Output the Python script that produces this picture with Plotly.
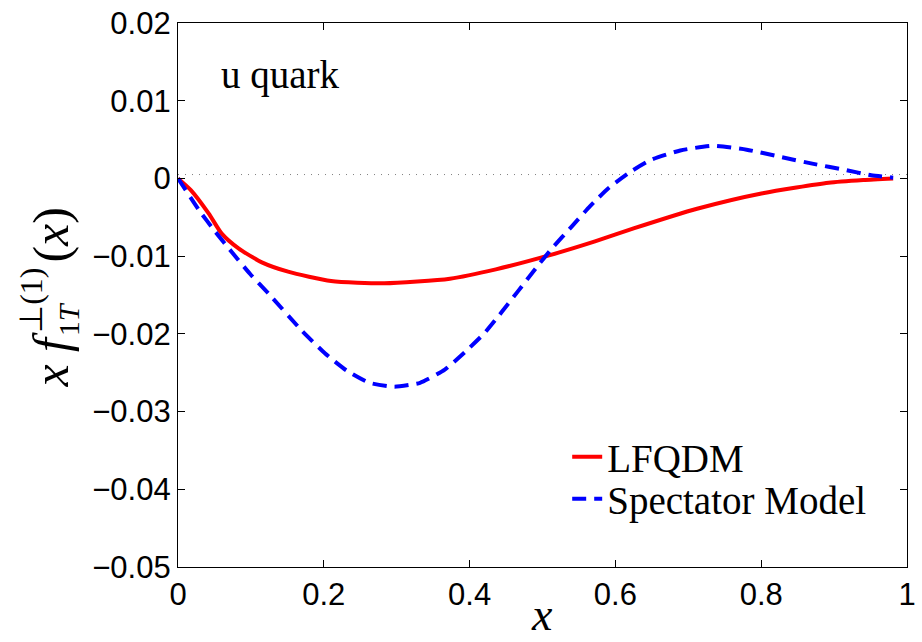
import plotly.graph_objects as go

# LFQDM curve
x_lfqdm = [0, 0.0176, 0.042, 0.060, 0.083, 0.115, 0.151, 0.210, 0.283, 0.373,
           0.436, 0.509, 0.572, 0.626, 0.712, 0.802, 0.8925, 0.94, 0.981]
y_lfqdm = [0, -0.0015, -0.0045, -0.0071, -0.0090, -0.0108, -0.0120, -0.0132,
           -0.0135, -0.0129, -0.0117, -0.0099, -0.0081, -0.0064, -0.0039,
           -0.0019, -0.00055, -0.0002, 0]

# Spectator model curve
x_spect = [0, 0.029, 0.0515, 0.074, 0.099, 0.124, 0.170, 0.2015, 0.231,
           0.2625, 0.297, 0.332, 0.366, 0.393, 0.4205, 0.444, 0.4657, 0.4905,
           0.513, 0.540, 0.565, 0.590, 0.6215, 0.649, 0.689, 0.734, 0.780,
           0.825, 0.870, 0.915, 0.951, 0.981]
y_spect = [0, -0.0041, -0.0069, -0.0095, -0.0123, -0.0148, -0.0196, -0.0225,
           -0.0247, -0.0263, -0.0268, -0.0263, -0.0246, -0.0224, -0.0199,
           -0.0172, -0.0146, -0.0116, -0.0090, -0.0062, -0.0036, -0.0013,
           0.0009, 0.0024, 0.0036, 0.0042, 0.0037, 0.0028, 0.0019, 0.0011,
           0.0004, 0.0001]

# dotted reference level
x_ref = [0, 1]
y_ref = [0.0005, 0.0005]

x_ticks = [0, 0.2, 0.4, 0.6, 0.8, 1]
x_ticklabels = ["0", "0.2", "0.4", "0.6", "0.8", "1"]
y_ticks = [0.02, 0.01, 0, -0.01, -0.02, -0.03, -0.04, -0.05]
y_ticklabels = ["0.02", "0.01", "0", "\u22120.01", "\u22120.02", "\u22120.03",
                "\u22120.04", "\u22120.05"]

SERIF = "Liberation Serif"
SANS = "Liberation Sans"

fig = go.Figure()

fig.add_trace(go.Scatter(x=x_ref, y=y_ref, mode="lines", showlegend=False,
                         hoverinfo="skip",
                         line=dict(color="#808080", width=1, dash="1px,6px")))

fig.add_trace(go.Scatter(x=x_lfqdm, y=y_lfqdm, mode="lines", name="LFQDM",
                         legend="legend",
                         line=dict(color="#ff0000", width=4, shape="spline",
                                   smoothing=0.6)))
fig.add_trace(go.Scatter(x=x_spect, y=y_spect, mode="lines",
                         name="Spectator Model", legend="legend2",
                         line=dict(color="#0000ff", width=4, dash="14px,8px",
                                   shape="spline", smoothing=0.5)))

axis_common = dict(showline=True, linecolor="black", linewidth=1.2,
                   mirror="ticks", ticks="inside", ticklen=7, tickwidth=1,
                   tickcolor="black", showgrid=False, zeroline=False,
                   tickfont=dict(family=SANS, size=31, color="black"))

fig.update_xaxes(range=[0, 1], tickvals=x_ticks, ticktext=x_ticklabels,
                 ticklabeloverflow="allow", **axis_common)
fig.update_yaxes(range=[-0.05, 0.02], tickvals=y_ticks, ticktext=y_ticklabels,
                 **axis_common)

L, T, W, H = 178, 23, 738, 544   # plot area in pixels


def px(xp):
    return (xp - L) / W


def py(yp):
    return (T + H - yp) / H


def rot(text, xc, yc, size):
    return dict(text=text, x=px(xc), y=py(yc), xref="paper", yref="paper",
                xanchor="center", yanchor="middle", textangle=-90,
                showarrow=False, font=dict(family=SERIF, size=size,
                                           color="black"))


annotations = [
    dict(text="u quark", x=px(220), y=py(75), xref="paper", yref="paper",
         xanchor="left", yanchor="middle", showarrow=False,
         font=dict(family=SERIF, size=39, color="black")),
    dict(text="<i>x</i>", x=px(546), y=py(642), xref="paper", yref="paper",
         xanchor="center", yanchor="bottom", showarrow=False,
         font=dict(family=SERIF, size=46, color="black")),
    rot("<i>x f</i>", 49, 360, 50),
    rot("1<i>T</i>", 67, 319, 30),
    rot("\u22a5(1)", 29, 300, 32),
    rot("(<i>x</i>)", 49, 235, 50),
]

legend_common = dict(xanchor="left", yanchor="middle", bgcolor="rgba(0,0,0,0)",
                     borderwidth=0,
                     font=dict(family=SERIF, size=39, color="black"))

fig.update_layout(
    width=922, height=642,
    margin=dict(l=L, r=922 - L - W, t=T, b=642 - T - H),
    paper_bgcolor="white", plot_bgcolor="white",
    annotations=annotations,
    legend=dict(x=px(572), y=py(457), **legend_common),
    legend2=dict(x=px(572), y=py(499), **legend_common),
)

fig.write_html("out.html")
